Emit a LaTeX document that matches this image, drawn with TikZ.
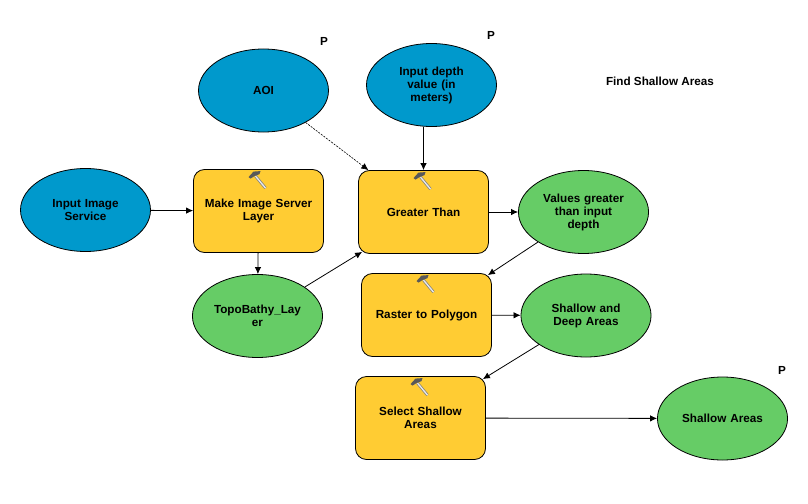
\documentclass[tikz,border=0pt]{standalone}
\usepackage{fontspec}
\setmainfont{Liberation Sans}
\usetikzlibrary{arrows.meta, shapes.geometric}
\definecolor{inblue}{HTML}{0099CC}
\definecolor{outgreen}{HTML}{66CC66}
\definecolor{toolyellow}{HTML}{FFCC33}
\tikzset{
  base/.style={draw=black, line width=0.8pt, align=center, font=\fontsize{11.7}{13}\selectfont\bfseries, inner sep=0pt},
  input/.style={base, ellipse, fill=inblue, minimum width=130pt, minimum height=83pt, text width=82pt},
  output/.style={base, ellipse, fill=outgreen, minimum width=130pt, minimum height=83pt, text width=92pt},
  tool/.style={base, rectangle, rounded corners=11pt, fill=toolyellow, minimum width=130pt, minimum height=83pt, text width=118pt},
  flow/.style={-{Latex[length=7pt,width=6.5pt]}, line width=0.8pt},
  param/.style={font=\fontsize{11.7}{13}\selectfont\bfseries, inner sep=0pt},
  hammer/.pic={
    \draw[line width=2.8pt, black!50] (-3,7) -- (7,19);
    \draw[line width=1.3pt, black!8] (-3,7) -- (7,19);
    \fill[black!65] (-10,8) -- (-5,2.5) -- (2,2) -- (1,5) -- (-4,7) -- (-8,9.5) -- cycle;
  }
}
\begin{document}
\begin{tikzpicture}[x=1pt, y=-1pt]
  \useasboundingbox (0,0) rectangle (808,503);
  % inputs
  \node[input] (aoi) at (263.5,90.5) {AOI};
  \node[input] (depth) at (431.5,85) {Input depth\\value (in\\meters)};
  \node[input] (imgsvc) at (85.5,210) {Input Image\\Service};
  % tools
  \node[tool] (mkimg) at (258.5,211) {Make Image Server\\Layer};
  \node[tool] (gt) at (423.5,212) {Greater Than};
  \node[tool] (r2p) at (426.5,315) {Raster to Polygon};
  \node[tool] (sel) at (420.5,418) {Select Shallow\\Areas};
  % outputs
  \node[output] (topo) at (257.5,316) {TopoBathy\_Lay\\er};
  \node[output] (vals) at (583.5,212) {Values greater\\than input\\depth};
  \node[output] (sda) at (586,315.5) {Shallow and\\Deep Areas};
  \node[output] (sa) at (722.5,418.5) {Shallow Areas};
  % hammers
  \foreach \t in {mkimg,gt,r2p,sel} {
      \pic at (\t.north) {hammer};
  }
  % labels
  \node[param] (paoi) at (324,41) {P};
  \node[param] (pdepth) at (491,35) {P};
  \node[param] (psa) at (782,370) {P};
  \node[param] (title) at (660,81) {Find Shallow Areas};
  % edges
  \draw[flow, dash pattern=on 2pt off 1.2pt, line width=0.6pt] (aoi) -- (gt);
  \draw[flow] (gt.north |- depth.south) -- (gt.north);
  \draw[flow] (imgsvc) -- (mkimg);
  \draw[flow] (mkimg) -- (topo);
  \draw[flow] (topo) -- ([shift={(4,-2)}]gt.south west);
  \draw[flow] (gt) -- (vals);
  \draw[flow] (vals) -- ([shift={(-4,2)}]r2p.north east);
  \draw[flow] (r2p) -- (sda);
  \draw[flow] (sda) -- ([shift={(-3,3)}]sel.north east);
  \draw[flow] (sel) -- (sa);
\end{tikzpicture}
\end{document}
